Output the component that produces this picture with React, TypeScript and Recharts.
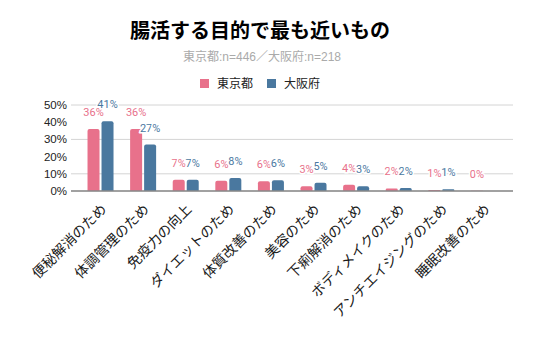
import React from "react";
import { BarChart, Bar, XAxis, YAxis, CartesianGrid, LabelList } from "recharts";

const CATEGORIES = [
  "便秘解消のため",
  "体調管理のため",
  "免疫力の向上",
  "ダイエットのため",
  "体質改善のため",
  "美容のため",
  "下痢解消のため",
  "ボディメイクのため",
  "アンチエイジングのため",
  "睡眠改善のため",
];
const TOKYO = [36, 36, 6.6, 6.0, 5.6, 2.7, 3.6, 1.5, 0.6, 0.2];
const OSAKA = [40.5, 27, 6.6, 7.6, 6.2, 4.8, 2.8, 1.8, 1.0, null];
const Y_TICKS = [0, 10, 20, 30, 40, 50];

const PINK = "#E8718B";
const BLUE = "#4A789F";
const FONT = '"Liberation Sans", Arial, "Noto Sans CJK JP", sans-serif';
const CJK = '"Noto Sans CJK JP", "Liberation Sans", sans-serif';

const data = CATEGORIES.map((name, i) => ({
  name,
  tokyo: TOKYO[i],
  osaka: OSAKA[i],
}));

function ValueLabel({ x, y, width, value, color }: any) {
  if (value == null) return null;
  return (
    <text
      x={x + width / 2}
      y={y - 13}
      textAnchor="middle"
      fill={color}
      stroke="#fff"
      strokeWidth={3}
      paintOrder="stroke"
      fontSize={11}
      fontFamily="Roboto, sans-serif"
    >
      {Math.round(value)}%
    </text>
  );
}

function CategoryTick({ x, payload }: any) {
  return (
    <g transform={`translate(${x + 7},${210})`}>
      <text
        transform="rotate(-45)"
        textAnchor="end"
        fill="#1a1a1a"
        fontSize={14}
        fontFamily={CJK}
      >
        {payload.value}
      </text>
    </g>
  );
}

export default function App() {
  return (
    <div
      style={{
        position: "absolute",
        left: 0,
        top: 0,
        width: 536,
        height: 353,
        background: "#fff",
        fontFamily: FONT,
      }}
    >
      <div
        style={{
          position: "absolute",
          top: 17,
          left: 0,
          width: 520,
          textAlign: "center",
          fontFamily: CJK,
          fontWeight: 700,
          fontSize: 20,
          color: "#000",
          lineHeight: "26px",
        }}
      >
        腸活する目的で最も近いもの
      </div>
      <div
        style={{
          position: "absolute",
          top: 49,
          left: 0,
          width: 524,
          textAlign: "center",
          fontSize: 12,
          color: "#aaa",
          lineHeight: "16px",
        }}
      >
        東京都:n=446／大阪府:n=218
      </div>
      <div
        style={{
          position: "absolute",
          top: 75,
          left: 0,
          width: 520,
          display: "flex",
          justifyContent: "center",
          alignItems: "center",
          gap: 14,
          fontSize: 12,
          color: "#222",
          fontFamily: CJK,
          lineHeight: "16px",
        }}
      >
        {[
          { label: "東京都", color: PINK },
          { label: "大阪府", color: BLUE },
        ].map((s) => (
          <div key={s.label} style={{ display: "flex", alignItems: "center", gap: 8 }}>
            <span style={{ width: 9, height: 9, background: s.color, display: "inline-block" }} />
            <span>{s.label}</span>
          </div>
        ))}
      </div>
      <div style={{ position: "absolute", left: 0, top: 0 }}>
        <BarChart
          width={536}
          height={353}
          data={data}
          margin={{ top: 105, right: 23, bottom: 0, left: 0 }}
          barCategoryGap="20%"
          barGap={2}
        >
          <CartesianGrid vertical={false} stroke="#d4d4d4" />
          <XAxis
            dataKey="name"
            interval={0}
            height={162}
            tickLine={false}
            axisLine={{ stroke: "#888", strokeWidth: 1.5 }}
            padding={{ left: 8, right: 8 }}
            tick={<CategoryTick />}
          />
          <YAxis
            width={71}
            domain={[0, 50]}
            ticks={Y_TICKS}
            tickFormatter={(v) => `${v}%`}
            axisLine={false}
            tickLine={false}
            tickSize={0}
            tickMargin={4}
            tick={{ fill: "#222", fontSize: 11.5, fontFamily: FONT }}
          />
          <Bar dataKey="tokyo" fill={PINK} radius={[2, 2, 0, 0]} isAnimationActive={false}>
            <LabelList dataKey="tokyo" content={<ValueLabel color={PINK} />} />
          </Bar>
          <Bar dataKey="osaka" fill={BLUE} radius={[2, 2, 0, 0]} isAnimationActive={false}>
            <LabelList dataKey="osaka" content={<ValueLabel color={BLUE} />} />
          </Bar>
        </BarChart>
      </div>
    </div>
  );
}
